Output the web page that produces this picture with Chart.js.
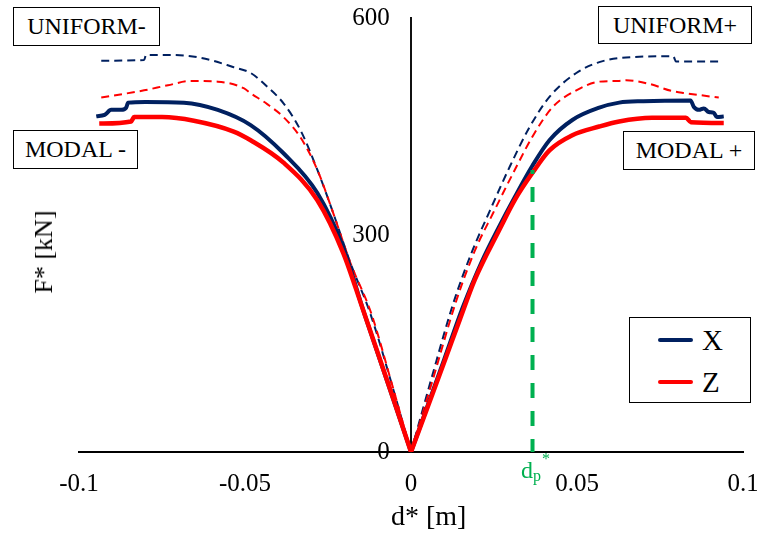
<!DOCTYPE html>
<html>
<head>
<meta charset="utf-8">
<script src="https://cdn.jsdelivr.net/npm/chart.js@4/dist/chart.umd.min.js"></script>
<style>
  html, body { margin: 0; padding: 0; background: #fff; }
  #wrap { position: relative; width: 757px; height: 533px; font-family: 'Liberation Serif', 'Times New Roman', serif; color: #000; }
  #chart { position: absolute; left: 0; top: 0; }
  .box { position: absolute; box-sizing: border-box; border: 1.5px solid #000; background: #fff;
         display: flex; align-items: center; justify-content: center; font-size: 24px; white-space: nowrap; }
  .title { position: absolute; white-space: nowrap; }
  .legend { position: absolute; left: 629px; top: 317px; width: 122px; height: 86px; box-sizing: border-box;
            border: 1.5px solid #000; background: #fff; }
  .legend .row { position: absolute; left: 28px; height: 30px; display: flex; align-items: center; font-size: 29px; }
  .legend .sw { width: 35px; height: 4px; border-radius: 2px; margin-right: 9px; }
  .dp { position: absolute; left: 521px; top: 458px; color: #00B050; font-size: 24px; line-height: 24px; white-space: nowrap; }
  .dp sub { font-size: 16px; position: relative; top: 3px; vertical-align: baseline; }
  .dp sup { font-size: 16px; position: relative; top: -14px; vertical-align: baseline; left: 1px; }
</style>
</head>
<body>
<div id="wrap">
  <canvas id="chart" width="757" height="533"></canvas>
  <div class="box" style="left:13px; top:7px; width:147px; height:39px;">UNIFORM-</div>
  <div class="box" style="left:13px; top:130px; width:125px; height:39px;">MODAL -</div>
  <div class="box" style="left:598px; top:6px; width:154px; height:38px;">UNIFORM+</div>
  <div class="box" style="left:623px; top:131px; width:132px; height:39px;">MODAL +</div>
  <div class="legend">
    <div class="row" style="top:7px;"><span class="sw" style="background:#002060"></span>X</div>
    <div class="row" style="top:49px;"><span class="sw" style="background:#FF0000"></span>Z</div>
  </div>
  <div class="title" style="left:391px; top:500px; font-size:28px;">d* [m]</div>
  <div class="title" style="left:44px; top:252px; font-size:26px; transform: translate(-50%,-50%) rotate(-90deg);">F* [kN]</div>
  <div class="dp">d<sub>p</sub><sup>*</sup></div>
</div>
<script>
// Capacity curves F*-d* of the equivalent SDOF system, both push directions.

// Modal load pattern, X direction
const modalX_d = [-0.0948, -0.0923, -0.0903, -0.0873, -0.0858, -0.0852, -0.0800, -0.0684, -0.0582, -0.0483, -0.0384, -0.0282, -0.0204, -0.0144, -0.0100, -0.0050, 0,
                   0.0050, 0.0100, 0.0156, 0.0212, 0.0267, 0.0312, 0.0366, 0.0417, 0.0486, 0.0567, 0.0627, 0.0700, 0.0842, 0.0852, 0.0867, 0.0882, 0.0897, 0.0912, 0.0921, 0.0942];
const modalX_F = [464, 466, 473, 473, 476, 483, 484, 483, 473, 452, 413, 358, 283, 196, 136, 68, 0,
                   64, 128, 200, 262, 313, 352, 396, 431, 459, 476, 483, 485, 486, 477, 473, 475, 470, 469, 463, 464];

// Modal load pattern, Z direction
const modalZ_d = [-0.0939, -0.0843, -0.0834, -0.0750, -0.0654, -0.0534, -0.0483, -0.0384, -0.0282, -0.0204, -0.0147, -0.0100, -0.0050, 0,
                   0.0050, 0.0100, 0.0147, 0.0192, 0.0267, 0.0312, 0.0366, 0.0417, 0.0486, 0.0567, 0.0627, 0.0726, 0.0828, 0.0843, 0.0942];
const modalZ_F = [454, 457, 463, 463, 458, 443, 431, 400, 348, 275, 200, 137, 69, 0,
                   62, 124, 183, 238, 308, 348, 386, 417, 438, 450, 457, 462, 462, 456, 455];

// Uniform load pattern, X direction
const uniformX_d = [-0.0933, -0.0804, -0.0798, -0.0732, -0.0633, -0.0534, -0.0483, -0.0433, -0.0384, -0.0333, -0.0282, -0.0234, -0.0183, -0.0123, -0.0060, 0,
                     0.0060, 0.0127, 0.0182, 0.0237, 0.0297, 0.0357, 0.0417, 0.0498, 0.0567, 0.0666, 0.0768, 0.0790, 0.0798, 0.0927];
const uniformX_F = [541, 542, 549, 549, 545, 532, 524, 505, 482, 445, 390, 330, 262, 192, 97, 0,
                     99, 205, 275, 333, 394, 449, 491, 524, 539, 546, 547, 547, 540, 540];

// Uniform load pattern, Z direction
const uniformZ_d = [-0.0933, -0.0804, -0.0732, -0.0663, -0.0582, -0.0504, -0.0483, -0.0433, -0.0384, -0.0333, -0.0282, -0.0234, -0.0183, -0.0120, -0.0060, 0,
                     0.0065, 0.0137, 0.0192, 0.0247, 0.0317, 0.0367, 0.0427, 0.0498, 0.0567, 0.0627, 0.0648, 0.0717, 0.0786, 0.0828, 0.0927];
const uniformZ_F = [490, 500, 507, 513, 512, 503, 496, 481, 463, 435, 390, 330, 262, 192, 98, 0,
                     99, 210, 278, 330, 394, 437, 477, 500, 512, 513, 514, 509, 499, 496, 490];

// Displacement of the performance point on the X curve
const dpStar = 0.0366;
const dpForce = 390;

// Axis ticks
const xTicks = [-0.1, -0.05, 0, 0.05, 0.1];
const xTickLabels = ['-0.1', '-0.05', '0', '0.05', '0.1'];
const yTicks = [0, 300, 600];
const yTickLabels = ['0', '300', '600'];

const NAVY = '#002060';
const RED = '#FF0000';
const GREEN = '#00B050';

// Split a curve into its negative and positive branches so the tip at the origin stays sharp
function branch(d, F, side) {
  const pts = d.map((x, i) => ({ x: x, y: F[i] }));
  return side < 0 ? pts.filter(p => p.x <= 0) : pts.filter(p => p.x >= 0);
}

function curve(d, F, side, color, width, dash) {
  return {
    data: branch(d, F, side),
    borderColor: color,
    borderWidth: width,
    borderDash: dash,
    cubicInterpolationMode: 'monotone',
    pointRadius: 0,
    fill: false,
    borderCapStyle: 'butt',
    borderJoinStyle: 'round'
  };
}

const datasets = [
  {
    data: [{ x: dpStar, y: dpForce }, { x: dpStar, y: 0 }],
    borderColor: GREEN,
    borderWidth: 4,
    borderDash: [15, 13],
    borderDashOffset: 11,
    pointRadius: 0,
    fill: false
  },
  curve(modalZ_d, modalZ_F, -1, RED, 4.5, []),
  curve(modalZ_d, modalZ_F, 1, RED, 4.5, []),
  curve(modalX_d, modalX_F, -1, NAVY, 4, []),
  curve(modalX_d, modalX_F, 1, NAVY, 4, []),
  curve(uniformZ_d, uniformZ_F, -1, RED, 2, [8, 5]),
  curve(uniformZ_d, uniformZ_F, 1, RED, 2, [8, 5]),
  curve(uniformX_d, uniformX_F, -1, NAVY, 2, [8, 5]),
  curve(uniformX_d, uniformX_F, 1, NAVY, 2, [8, 5])
];

const tickFont = { family: "'Liberation Serif', 'Times New Roman', serif", size: 25 };
const noGrid = { drawOnChartArea: false, drawTicks: false };

new Chart(document.getElementById('chart'), {
  type: 'scatter',
  data: { datasets: datasets },
  options: {
    responsive: false,
    animation: false,
    devicePixelRatio: 1,
    showLine: true,
    layout: { padding: { left: 79, right: 14, top: 18, bottom: 81 } },
    plugins: { legend: { display: false }, tooltip: { enabled: false } },
    scales: {
      x: {
        type: 'linear',
        min: -0.1,
        max: 0.1,
        position: { y: 0 },
        afterFit: s => { s.height = 0; s.paddingLeft = 0; s.paddingRight = 0; },
        afterBuildTicks: s => { s.ticks = xTicks.map(v => ({ value: v })); },
        grid: noGrid,
        border: { display: true, color: '#000', width: 2 },
        ticks: {
          font: tickFont,
          color: '#000',
          padding: 17,
          maxRotation: 0,
          autoSkip: false,
          callback: (v, i) => xTickLabels[i]
        }
      },
      // vertical axis line through d* = 0
      y: {
        type: 'linear',
        min: 0,
        max: 600,
        position: { x: 0 },
        afterFit: s => { s.width = 0; s.paddingTop = 0; s.paddingBottom = 0; },
        grid: noGrid,
        border: { display: true, color: '#111', width: 2 },
        ticks: { display: false }
      },
      // force tick labels, set a little to the left of that line
      yLabels: {
        type: 'linear',
        axis: 'y',
        min: 0,
        max: 600,
        position: { x: -0.0064 },
        afterFit: s => { s.width = 0; s.paddingTop = 0; s.paddingBottom = 0; },
        afterBuildTicks: s => { s.ticks = yTicks.map(v => ({ value: v })); },
        grid: { display: false, drawTicks: false },
        border: { display: false },
        ticks: {
          font: tickFont,
          color: '#000',
          padding: 0,
          autoSkip: false,
          callback: (v, i) => yTickLabels[i]
        }
      }
    }
  }
});
</script>
</body>
</html>
